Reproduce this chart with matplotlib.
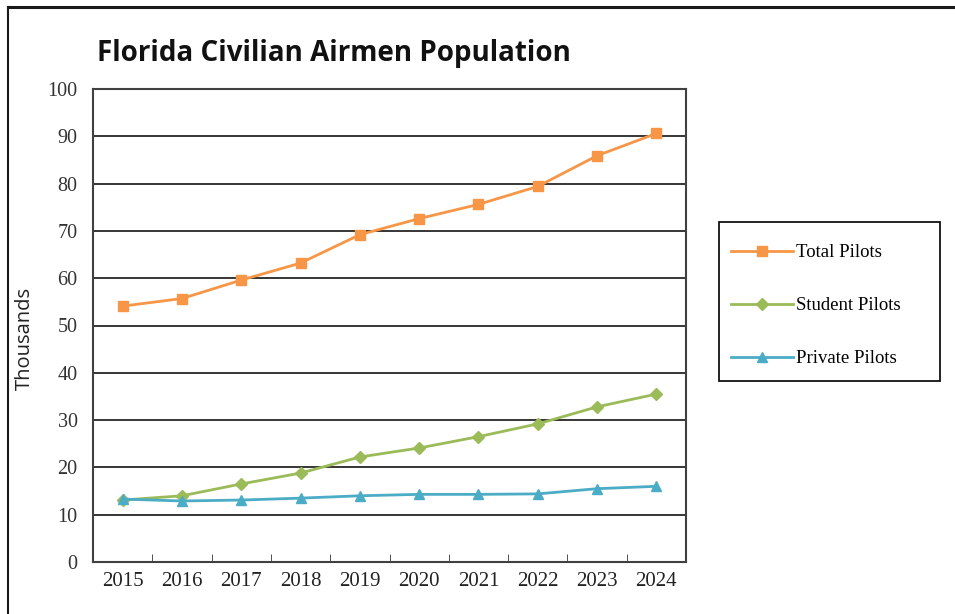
import matplotlib.pyplot as plt
from matplotlib.lines import Line2D
from matplotlib.patches import Rectangle
import numpy as np

years = ["2015", "2016", "2017", "2018", "2019", "2020", "2021", "2022", "2023", "2024"]
total_pilots = [54.1, 55.7, 59.6, 63.2, 69.2, 72.6, 75.6, 79.4, 85.9, 90.6]
student_pilots = [13.1, 14.0, 16.5, 18.8, 22.2, 24.1, 26.5, 29.2, 32.8, 35.5]
private_pilots = [13.3, 12.9, 13.1, 13.5, 14.0, 14.3, 14.3, 14.4, 15.5, 16.0]

ORANGE = "#F79646"
GREEN = "#9BBB59"
BLUE = "#4BACC6"
SERIF = "Liberation Serif"
W, H = 955, 614


def fx(px):
    return px / W


def fy(py):
    return 1 - py / H


fig = plt.figure(figsize=(9.55, 6.14), dpi=100)
ax = fig.add_axes([fx(93), fy(562), (686 - 93) / W, (562 - 89) / H])

x = np.arange(len(years))
ax.plot(x, total_pilots, color=ORANGE, lw=2, marker="s", ms=7.5, label="Total Pilots")
ax.plot(x, student_pilots, color=GREEN, lw=2, marker="D", ms=6, label="Student Pilots")
ax.plot(x, private_pilots, color=BLUE, lw=2, marker="^", ms=7.5, label="Private Pilots")

ax.set_xlim(-0.5, len(years) - 0.5)
ax.set_ylim(0, 100)
ax.set_yticks(np.arange(0, 101, 10))
ax.yaxis.grid(True, color="#262626", lw=1.3)
ax.set_axisbelow(True)
ax.tick_params(axis="y", length=0, pad=11, labelsize=14.5, labelcolor="#333333")
for t in ax.get_yticklabels():
    t.set_fontfamily(SERIF)

ax.set_xticks(x)
ax.set_xticklabels(years, fontfamily=SERIF, fontsize=15, color="#222222")
ax.tick_params(axis="x", length=0, pad=7)
ax.set_xticks(np.arange(0.5, len(years) - 1, 1), minor=True)
ax.tick_params(axis="x", which="minor", direction="in", length=6, color="#333333")

for s in ax.spines.values():
    s.set_color("#404040")
    s.set_linewidth(1.5)

fig.text(fx(25), fy(338), "Thousands", rotation=90, ha="center", va="center",
         fontsize=14.5, fontfamily="Open Sans", color="#222222")
fig.text(fx(97), fy(54), "Florida Civilian Airmen Population", ha="left", va="center",
         fontsize=20, fontweight="bold", fontfamily="Open Sans", color="#111111")

# legend box drawn separately so its size matches the reference
fig.add_artist(Rectangle((fx(719), fy(381)), (940 - 719) / W, (381 - 222) / H,
                         transform=fig.transFigure, fill=False, ec="#111111", lw=1.3))
leg = fig.legend(loc="upper left", bbox_to_anchor=(fx(731), fy(244)),
                 prop={"family": SERIF, "size": 13.5}, frameon=False,
                 labelspacing=1.92, handlelength=3.3, handletextpad=0.15,
                 borderpad=0, borderaxespad=0)

# outer frame (top and left edges)
fig.add_artist(Line2D([fx(8), 1], [fy(7), fy(7)], color="#1a1a1a", lw=2.2,
                      transform=fig.transFigure))
fig.add_artist(Line2D([fx(8), fx(8)], [0, fy(7)], color="#1a1a1a", lw=1.5,
                      transform=fig.transFigure))

fig.savefig("out.png", dpi=100)
